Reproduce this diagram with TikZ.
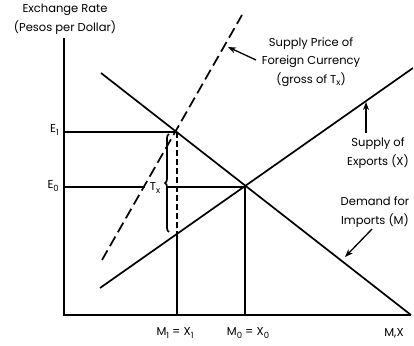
\documentclass[tikz,border=0pt]{standalone}
\usepackage{fontspec}
\setmainfont{Poppins}
\usetikzlibrary{arrows.meta,decorations.pathreplacing,calc}
\newcommand{\sbs}[1]{\raisebox{-2.6pt}{\fontsize{8.5}{9}\selectfont #1}}
\begin{document}
\begin{tikzpicture}[x=1pt,y=-1pt,
 curve/.style={line width=1.7pt},
 lbl/.style={font=\fontsize{11.5}{18.5}\selectfont, inner sep=0pt, align=center},
 ptr/.style={line width=1.3pt,-{Stealth[length=8pt,width=6pt]}}]
\useasboundingbox (0,0) rectangle (414,345);
% key points
\coordinate (O) at (64,315);
\coordinate (Ytop) at (64,38);
\coordinate (Xend) at (411,315);
\coordinate (Dtop) at (101,73);
\coordinate (Sbot) at (100,288);
\coordinate (Stop) at (413,68);
\coordinate (Gbot) at (102,260);
\coordinate (Gtop) at (242,15);
\coordinate (E0pt) at (245,187);
\coordinate (E1pt) at (177,132);
\coordinate (Slow) at (177,233);
\coordinate (E1ax) at (64,132);
\coordinate (E0ax) at (64,187);
\coordinate (E0a) at (145,187);
\coordinate (E0b) at (166,187);
\coordinate (M1ax) at (177,315);
\coordinate (M0ax) at (245,315);
% axes
\draw[curve] (Ytop) -- (O) -- (Xend);
% curves
\draw[curve] (Dtop) -- (Xend);
\draw[curve] (Sbot) -- (Stop);
\draw[curve, dash pattern=on 11pt off 5pt] (Gbot) -- (Gtop);
% guide lines
\draw[curve] (E1ax) -- (E1pt);
\draw[curve] (E0ax) -- (E0a);
\draw[curve] (E0b) -- (E0pt);
\draw[curve] (E0pt) -- (M0ax);
\draw[curve, dash pattern=on 6pt off 3pt] (E1pt) -- (Slow);
\draw[curve] (Slow) -- (M1ax);
\draw[curve, decorate, decoration={brace, amplitude=4pt}] (169,232) -- (169,134);
% labels
\node[lbl] (ylab) at (65,19) {Exchange Rate\\(Pesos per Dollar)};
\node[lbl, anchor=east] (e1) at (59,130) {E\sbs{1}};
\node[lbl, anchor=east] (e0) at (59,186) {E\sbs{0}};
\node[lbl] (tx) at (155,188) {T\sbs{x}};
\node[lbl] (gross) at (311,62) {Supply Price of\\Foreign Currency\\(gross of T\sbs{x})};
\node[lbl] (sx) at (378,153) {Supply of\\Exports (X)};
\node[lbl] (dm) at (375,212) {Demand for\\Imports (M)};
\node[lbl] (m1) at (175,333) {M\sbs{1} = X\sbs{1}};
\node[lbl] (m0) at (248,333) {M\sbs{0} = X\sbs{0}};
\node[lbl] (mx) at (394,333) {M,X};
% pointers
\coordinate (gt) at (256,60);
\coordinate (gh) at (228,47);
\coordinate (st) at (366,133);
\coordinate (sh) at (366,102);
\coordinate (dt) at (372,229);
\coordinate (dh) at (345,257);
\draw[ptr] (gt) -- (gh);
\draw[ptr] (st) -- (sh);
\draw[ptr] (dt) -- (dh);
\end{tikzpicture}
\end{document}
